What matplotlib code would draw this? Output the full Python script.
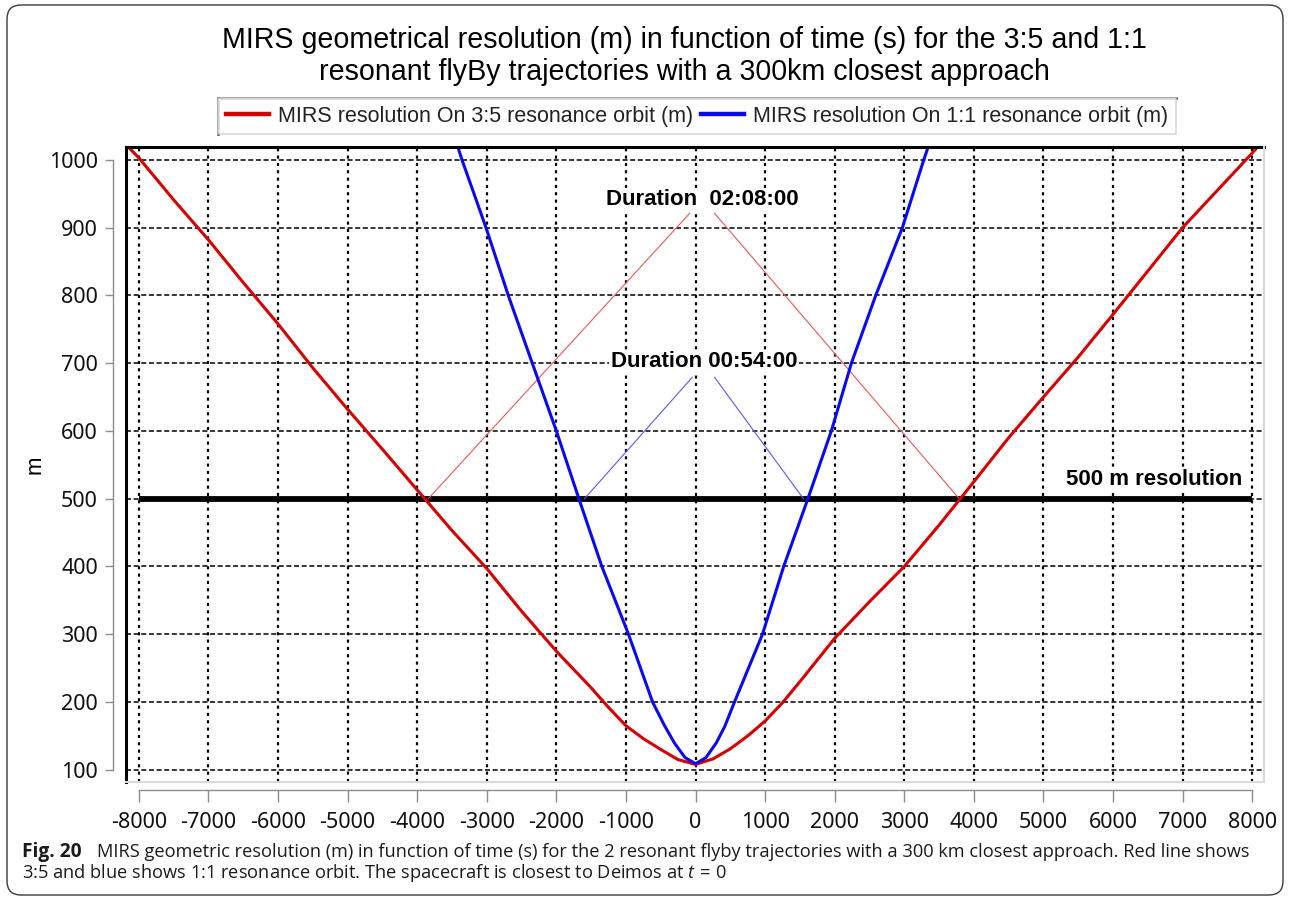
import matplotlib
matplotlib.use("Agg")
import matplotlib.pyplot as plt
from matplotlib.lines import Line2D
from matplotlib.patches import FancyBboxPatch
from matplotlib.transforms import IdentityTransform

# ---------------- data ----------------
red_t = [-8200, -8000, -7500, -7000, -6500, -6000, -5500, -5000, -4500, -4000,
         -3500, -3000, -2500, -2000, -1500, -1250, -1000, -750, -500, -250, 0,
         250, 500, 750, 1000, 1250, 1500, 2000, 2500, 3000, 3500, 4000,
         4500, 5000, 5500, 6000, 6500, 7000, 7500, 8000, 8170]
red_v = [1024, 1003, 941, 882, 819, 758, 693, 632, 573, 513,
         453, 397, 334, 275, 221, 192, 165, 146, 130, 115, 108,
         116, 131, 150, 172, 199, 230, 294, 348, 400, 461, 525,
         590, 650, 709, 772, 836, 900, 955, 1010, 1030]

blue_t = [-3450, -3356, -3011, -2691, -2346, -2000, -1676, -1346, -963, -617,
          -450, -300, -150, 0, 150, 300, 420, 560, 962, 1267, 1615, 1952,
          2240, 2590, 2973, 3280, 3380]
blue_v = [1030, 1000, 900, 800, 700, 600, 500, 400, 300, 200,
          166, 139, 118, 109, 118, 140, 164, 200, 300, 400, 500, 600,
          700, 800, 900, 1000, 1030]

threshold_t = [-8000, 8000]
threshold_v = [500, 500]

red_span_left_t, red_span_left_v = [-3840, -85], [500, 921]
red_span_right_t, red_span_right_v = [275, 3790], [921, 500]
blue_span_left_t, blue_span_left_v = [-1596, -48], [500, 679]
blue_span_right_t, blue_span_right_v = [275, 1551], [679, 500]

x_ticks = list(range(-8000, 8001, 1000))
y_ticks = list(range(100, 1001, 100))

series_labels = ["MIRS resolution On 3:5 resonance orbit (m)",
                 "MIRS resolution On 1:1 resonance orbit (m)"]
title = ("MIRS geometrical resolution (m) in function of time (s) for the 3:5 and 1:1\n"
         "resonant flyBy trajectories with a 300km closest approach")
label_long = "Duration  02:08:00"
label_short = "Duration 00:54:00"
label_thr = "500 m resolution"
caption_bold = "Fig. 20"
caption_l1 = ("MIRS geometric resolution (m) in function of time (s) for the 2 resonant "
              "flyby trajectories with a 300 km closest approach. Red line shows")
caption_l2 = "3:5 and blue shows 1:1 resonance orbit. The spacecraft is closest to Deimos at $t\\,{=}\\,0$"

# ---------------- figure ----------------
W, H = 1290, 897
plt.rcParams["mathtext.fontset"] = "custom"
plt.rcParams["mathtext.rm"] = "Open Sans"
plt.rcParams["mathtext.it"] = "Open Sans:italic"
fig = plt.figure(figsize=(W / 100, H / 100), dpi=100)
fig.patch.set_facecolor("white")

def fx(px):
    return px / W

def fy(py):
    return 1 - py / H

ax = fig.add_axes([fx(126), fy(782), fx(1264) - fx(126), fy(147) - fy(782)])
ax.set_xlim(-8185, 8170)
ax.set_ylim(82, 1019)

RED = "#d40000"
BLUE = "#0a0aee"

l_red, = ax.plot(red_t, red_v, color=RED, lw=2.2, zorder=4, label=series_labels[0],
                 solid_joinstyle="round")
l_blue, = ax.plot(blue_t, blue_v, color=BLUE, lw=2.2, zorder=4, label=series_labels[1],
                  solid_joinstyle="round")
ax.plot(threshold_t, threshold_v, color="black", lw=4.2, zorder=3, solid_capstyle="butt")

ax.plot(red_span_left_t, red_span_left_v, color="#e35a5a", lw=0.8, zorder=3)
ax.plot(red_span_right_t, red_span_right_v, color="#e35a5a", lw=0.8, zorder=3)
ax.plot(blue_span_left_t, blue_span_left_v, color="#5a5af0", lw=0.8, zorder=3)
ax.plot(blue_span_right_t, blue_span_right_v, color="#5a5af0", lw=0.8, zorder=3)

bbox_white = dict(facecolor="white", edgecolor="none", pad=1.0)
ax.text(100, 941, label_long, ha="center", va="center", fontsize=16, fontweight="bold",
        family="Liberation Sans", bbox=bbox_white, zorder=5)
ax.text(122, 702, label_short, ha="center", va="center", fontsize=16, fontweight="bold",
        family="Liberation Sans", bbox=bbox_white, zorder=5)
ax.text(7852, 528, label_thr, ha="right", va="center", fontsize=16, fontweight="bold",
        family="Liberation Sans", bbox=bbox_white, zorder=5)

# ticks / grid
ax.set_xticks(x_ticks)
ax.set_yticks(y_ticks)
ax.set_xticklabels([str(v) for v in x_ticks])
ax.set_yticklabels([str(v) for v in y_ticks])
ax.set_axisbelow(True)
ax.xaxis.grid(True, color="black", lw=1.6, linestyle=(0, (1.4, 1.9)))
ax.yaxis.grid(True, color="black", lw=1.1, linestyle=(0, (3.3, 1.7)))

for s in ["top", "right"]:
    ax.spines[s].set_visible(False)
ax.spines["left"].set_position(("outward", 9.4))
ax.spines["bottom"].set_position(("outward", 5.8))
ax.spines["left"].set_bounds(100, 1000)
ax.spines["bottom"].set_bounds(-8000, 8000)
for s in ["left", "bottom"]:
    ax.spines[s].set_color("#8c8c8c")
    ax.spines[s].set_linewidth(1.0)
ax.tick_params(axis="y", length=5.8, width=1.0, color="#8c8c8c", pad=5, labelsize=15.5)
ax.tick_params(axis="x", length=8.6, width=1.0, color="#8c8c8c", pad=7, labelsize=15.5)
for lab in ax.get_xticklabels() + ax.get_yticklabels():
    lab.set_family("Noto Sans")
    lab.set_color("#111111")

# plot frame: dark left/top, light right/bottom
ax.add_line(Line2D([0, 0], [0, 1], transform=ax.transAxes, color="black", lw=2.2, clip_on=False, zorder=6))
ax.add_line(Line2D([0, 1], [1, 1], transform=ax.transAxes, color="black", lw=2.2, clip_on=False, zorder=6))
ax.add_line(Line2D([1, 1], [0, 1], transform=ax.transAxes, color="#d9d9d9", lw=1.5, clip_on=False, zorder=6))
ax.add_line(Line2D([0, 1], [0, 0], transform=ax.transAxes, color="#d9d9d9", lw=1.5, clip_on=False, zorder=6))

# y label
fig.text(fx(35), fy(465), "m", rotation=90, ha="center", va="center", fontsize=16,
         family="Liberation Sans")

# title
fig.text(fx(684), fy(56), title, ha="center", va="center", fontsize=20.6,
         family="Liberation Sans", linespacing=1.15)

# legend
leg = fig.legend(handles=[l_red, l_blue], labels=series_labels, ncol=2, loc="center",
                 bbox_to_anchor=(fx(697), fy(116)), frameon=True, fancybox=False,
                 prop={"family": "Liberation Sans", "size": 15.5},
                 handlelength=2.0, handletextpad=0.4, columnspacing=0.4,
                 borderpad=0.35, borderaxespad=0)
leg.get_frame().set_edgecolor("#cfcfcf")
leg.get_frame().set_linewidth(1.2)
for h in leg.legend_handles:
    h.set_linewidth(3.2)
for t in leg.get_texts():
    t.set_color("#222222")

fig.canvas.draw()
renderer = fig.canvas.get_renderer()
bb = leg.get_window_extent(renderer).transformed(fig.transFigure.inverted())
fig.add_artist(Line2D([bb.x0, bb.x1], [bb.y1, bb.y1], transform=fig.transFigure, color="#333333", lw=1.8))
fig.add_artist(Line2D([bb.x0, bb.x0], [bb.y0, bb.y1], transform=fig.transFigure, color="#333333", lw=1.8))

# caption
cb = fig.text(fx(22), fy(857), caption_bold, ha="left", va="baseline", fontsize=13,
              fontweight="bold", family="Open Sans", color="#1a1a1a")
c1 = fig.text(fx(97), fy(857), caption_l1, ha="left", va="baseline", fontsize=13,
              family="Open Sans", color="#1a1a1a")
fig.canvas.draw()
w1 = c1.get_window_extent(renderer).width
size = 13 * (1247 - 97) / w1
c1.set_fontsize(size)
cb.set_fontsize(size * 1.05)
c2 = fig.text(fx(22), fy(878), caption_l2, ha="left", va="baseline", fontsize=size,
              family="Open Sans", color="#1a1a1a")

# outer rounded border
border = FancyBboxPatch((7, 2), 1276, 890, boxstyle="round,pad=0,rounding_size=14",
                        transform=IdentityTransform(), facecolor="none",
                        edgecolor="#3a3a3a", lw=1.0)
fig.add_artist(border)

fig.savefig("out.png", dpi=100, facecolor="white")
